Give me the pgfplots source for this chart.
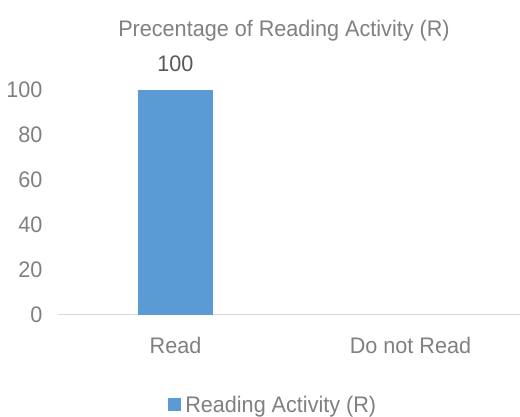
\documentclass[border=0pt]{standalone}
\usepackage{pgfplots}
\pgfplotsset{compat=1.18}
\usepackage{fontspec}
\setmainfont{Liberation Sans}[FakeStretch=0.96]
\definecolor{barblue}{HTML}{5B9BD5}
\definecolor{txtgray}{HTML}{808080}
\definecolor{lblgray}{HTML}{595959}
\definecolor{axgray}{HTML}{D9D9D9}
\begin{document}
\begin{tikzpicture}[x=1pt,y=1pt]
\useasboundingbox (0,0) rectangle (520,417);
\begin{axis}[
  at={(58pt,102pt)}, anchor=south west,
  scale only axis, width=470pt, height=225pt,
  xmin=-0.5, xmax=1.5, ymin=0, ymax=100,
  ytick={0,20,...,100},
  xtick={0,1}, xticklabels={Read,Do not Read},
  axis x line*=bottom, axis y line*=left,
  x axis line style={axgray, line width=1pt, -},
  y axis line style={draw=none},
  major tick length=0pt,
  tick style={draw=none},
  /pgf/number format/assume math mode=true,
  ticklabel style={font=\fontsize{22.5}{26}\selectfont, text=txtgray},
  yticklabel style={anchor=east, xshift=-12pt},
  xticklabel style={yshift=-19pt},
  ybar, bar width=74pt,
  nodes near coords,
  nodes near coords style={font=\fontsize{22.5}{26}\selectfont, text=lblgray, yshift=15pt},
  legend style={at={(0.458,-0.40)}, anchor=center, draw=none, fill=none,
    font=\fontsize{22.5}{26}\selectfont, text=txtgray,
    /tikz/every even column/.append style={column sep=0pt}},
  legend image code/.code={\fill[barblue] (0pt,-6pt) rectangle (13pt,7pt);},
]
\addplot[fill=barblue, draw=none] coordinates {(0,100)};
\addlegendentry{\hspace{2pt}Reading Activity (R)}
\end{axis}
\node[font=\fontsize{22.5}{26}\selectfont, text=txtgray] at (284,386) {Precentage of Reading Activity (R)};
\end{tikzpicture}
\end{document}
